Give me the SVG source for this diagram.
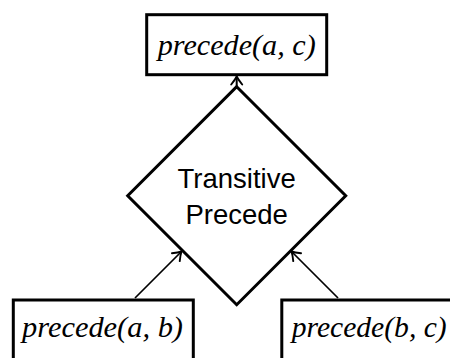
<svg xmlns="http://www.w3.org/2000/svg" width="450" height="358" viewBox="0 0 450 358">
  <style>
    .box { fill: #ffffff; stroke: #000000; stroke-width: 3; }
    .math { font-family: "Liberation Serif", "DejaVu Serif", serif; font-style: italic; font-size: 29px; fill: #000000; text-anchor: middle; }
    .sans { font-family: "Liberation Sans", Arial, sans-serif; font-size: 27.5px; fill: #000000; text-anchor: middle; }
    .conn { fill: none; stroke: #000000; stroke-width: 1.7; }
  </style>
  <defs>
    <marker id="arrow" viewBox="-10 -7 12 14" markerWidth="12" markerHeight="14" refX="0" refY="0" orient="auto" markerUnits="userSpaceOnUse">
      <path d="M -8,-5.5 Q -3,-1.5 0,0 Q -3,1.5 -8,5.5" fill="none" stroke="#000000" stroke-width="1.9" stroke-linecap="round" stroke-linejoin="round"/>
    </marker>
  </defs>
  <rect width="450" height="358" fill="#ffffff"/>
  <g id="connectors">
    <path class="conn" d="M 135,298 L 181.5,251.5" marker-end="url(#arrow)"/>
    <path class="conn" d="M 338,298 L 291.5,251.5" marker-end="url(#arrow)"/>
    <path class="conn" d="M 236.7,87 L 236.7,76.5" marker-end="url(#arrow)" style="stroke-width:2"/>
  </g>
  <g id="node-precede-ac">
    <rect class="box" x="146.7" y="14.7" width="180" height="60"/>
    <text class="math" x="236.7" y="55" textLength="158" lengthAdjust="spacingAndGlyphs">precede(a, c)</text>
  </g>
  <g id="node-transitive">
    <polygon class="box" points="236.7,86.7 345.7,195.7 236.7,304.7 127.7,195.7"/>
    <text class="sans" x="236.7" y="187.7">Transitive</text>
    <text class="sans" x="236.7" y="224.3">Precede</text>
  </g>
  <g id="node-precede-ab">
    <rect class="box" x="13.3" y="300" width="180" height="60"/>
    <text class="math" x="102.5" y="337" textLength="161" lengthAdjust="spacingAndGlyphs">precede(a, b)</text>
  </g>
  <g id="node-precede-bc">
    <rect class="box" x="281.8" y="300" width="180" height="60"/>
    <text class="math" x="369.2" y="337" textLength="155" lengthAdjust="spacingAndGlyphs">precede(b, c)</text>
  </g>
</svg>
